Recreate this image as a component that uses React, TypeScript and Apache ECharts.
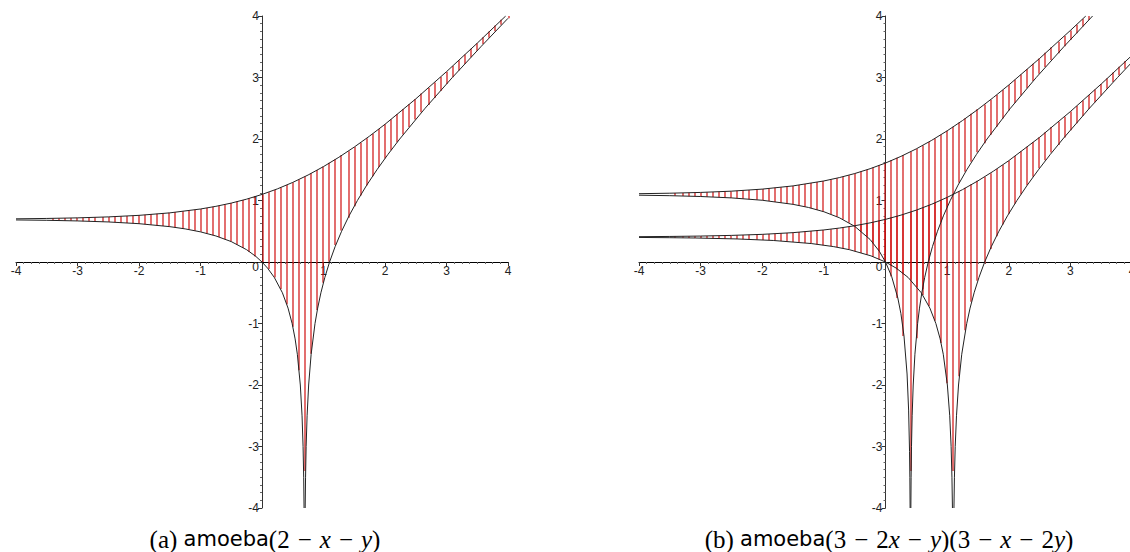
import React, { useEffect, useRef } from "react";
import * as echarts from "echarts";

// ---- Data: boundary curves of the amoebas, [log|x|, log|y|] ----
// Panel (a): amoeba(2 - x - y)
const A_UPPER = [[-4,0.7022],[-3.5,0.7081],[-3,0.7177],[-2.5,0.7334],[-2,0.7586],[-1.5,0.7989],[-1,0.862],[-0.75,0.9051],[-0.5,0.958],[-0.25,1.022],[0,1.0986],[0.25,1.189],[0.5,1.2944],[0.75,1.4151],[1,1.5514],[1.25,1.703],[1.5,1.869],[1.75,2.0482],[2,2.2395],[2.5,2.652],[3,3.0949],[3.5,3.5586],[3.9626,4]];
const A_LOWER_RIGHT = [[0.7022,-4],[0.7081,-3.5],[0.7177,-3],[0.7334,-2.5],[0.7586,-2],[0.7989,-1.5],[0.862,-1],[0.9051,-0.75],[0.958,-0.5],[1.022,-0.25],[1.0986,0],[1.189,0.25],[1.2944,0.5],[1.4151,0.75],[1.5514,1],[1.703,1.25],[1.869,1.5],[2.0482,1.75],[2.2395,2],[2.652,2.5],[3.0949,3],[3.5586,3.5],[4,3.9626]];
const A_LOWER_LEFT = [[-4,0.6839],[-3.5,0.6779],[-3,0.6679],[-2.5,0.6512],[-2,0.6231],[-1.5,0.5749],[-1.25,0.5385],[-1,0.4899],[-0.75,0.4237],[-0.5,0.3318],[-0.25,0.1998],[-0.1,0.0909],[0,0],[0.0909,-0.1],[0.1998,-0.25],[0.3318,-0.5],[0.4237,-0.75],[0.4899,-1],[0.5385,-1.25],[0.5749,-1.5],[0.6231,-2],[0.6512,-2.5],[0.6679,-3],[0.6779,-3.5],[0.6839,-4]];

// Panel (b): amoeba(3 - 2x - y)(3 - x - 2y)
const B1_UPPER = [[-4,1.1107],[-3.5,1.1185],[-3,1.1313],[-2.5,1.1519],[-2,1.185],[-1.5,1.2373],[-1,1.318],[-0.75,1.3724],[-0.5,1.4382],[-0.25,1.5168],[0,1.6094],[0.25,1.717],[0.5,1.8401],[0.75,1.9788],[1,2.1326],[1.25,2.3006],[1.5,2.4819],[1.75,2.6748],[2,2.878],[2.5,3.3093],[3,3.7652],[3.2503,4]];
const B1_LOWER_RIGHT = [[0.4116,-4],[0.4155,-3.5],[0.4219,-3],[0.4325,-2.5],[0.4496,-2],[0.4772,-1.5],[0.5212,-1],[0.5517,-0.75],[0.5896,-0.5],[0.6363,-0.25],[0.6931,0],[0.7617,0.25],[0.8434,0.5],[0.9394,0.75],[1.0505,1],[1.1772,1.25],[1.3193,1.5],[1.4764,1.75],[1.6476,2],[2.027,2.5],[2.4461,3],[2.8936,3.5],[3.3603,4]];
const B1_LOWER_LEFT = [[-4,1.0863],[-3.5,1.0783],[-3,1.0648],[-2.5,1.0423],[-2,1.004],[-1.5,0.9375],[-1.25,0.8867],[-1,0.8172],[-0.75,0.7204],[-0.5,0.5805],[-0.25,0.3663],[-0.1,0.1743],[0,0],[0.1,-0.2362],[0.2,-0.5849],[0.25,-0.8396],[0.3,-1.203],[0.35,-1.821],[0.375,-2.4077],[0.39,-3.0782],[0.3953,-3.5],[0.3993,-4]];
const B2_UPPER = [[-4,0.4116],[-3.5,0.4155],[-3,0.4219],[-2.5,0.4325],[-2,0.4496],[-1.5,0.4772],[-1,0.5212],[-0.75,0.5517],[-0.5,0.5896],[-0.25,0.6363],[0,0.6931],[0.25,0.7617],[0.5,0.8434],[0.75,0.9394],[1,1.0505],[1.25,1.1772],[1.5,1.3193],[1.75,1.4764],[2,1.6476],[2.5,2.027],[3,2.4461],[3.5,2.8936],[4,3.3603]];
const B2_LOWER_RIGHT = [[1.1107,-4],[1.1185,-3.5],[1.1313,-3],[1.1519,-2.5],[1.185,-2],[1.2373,-1.5],[1.318,-1],[1.3724,-0.75],[1.4382,-0.5],[1.5168,-0.25],[1.6094,0],[1.717,0.25],[1.8401,0.5],[1.9788,0.75],[2.1326,1],[2.3006,1.25],[2.4819,1.5],[2.6748,1.75],[2.878,2],[3.3093,2.5],[3.7652,3],[4,3.2503]];
const B2_LOWER_LEFT = [[-4,0.3993],[-3.5,0.3953],[-3.0782,0.39],[-2.4077,0.375],[-1.821,0.35],[-1.203,0.3],[-0.8396,0.25],[-0.5849,0.2],[-0.2362,0.1],[0,0],[0.1743,-0.1],[0.3663,-0.25],[0.5805,-0.5],[0.7204,-0.75],[0.8172,-1],[0.8867,-1.25],[0.9375,-1.5],[1.004,-2],[1.0423,-2.5],[1.0648,-3],[1.0783,-3.5],[1.0863,-4]];

const AXIS_MIN = -4;
const AXIS_MAX = 4;

// hatching (fill style): vertical strokes every 0.1 unit
const HATCH_FROM = -3.4;
const HATCH_STEP = 0.1;
const HATCH_COLOR = "#d01010";
const CURVE_COLOR = "#222222";

type Pts = number[][];

function interp(arr: Pts, u: number): number {
  if (u <= arr[0][0]) return arr[0][1];
  for (let i = 1; i < arr.length; i++) {
    if (u <= arr[i][0]) {
      const t = (u - arr[i - 1][0]) / (arr[i][0] - arr[i - 1][0]);
      return arr[i - 1][1] + t * (arr[i][1] - arr[i - 1][1]);
    }
  }
  return arr[arr.length - 1][1];
}

function hatchSeries(idx: number, up: Pts, ll: Pts, lr: Pts) {
  const us: number[] = [];
  for (let k = 0; HATCH_FROM + k * HATCH_STEP <= AXIS_MAX + 1e-9; k++) {
    us.push(+(HATCH_FROM + k * HATCH_STEP).toFixed(2));
  }
  const llEnd = ll[ll.length - 1][0];
  const lrStart = lr[0][0];
  const upEnd = up[up.length - 1][0];
  return {
    type: "custom",
    xAxisIndex: idx,
    yAxisIndex: idx,
    data: [[0, 0]],
    z: 1,
    silent: true,
    renderItem: (_params: any, api: any) => {
      let d = "";
      us.forEach((u) => {
        let lo = u <= llEnd ? interp(ll, u) : u >= lrStart ? interp(lr, u) : -Infinity;
        let hi = u >= upEnd ? AXIS_MAX : interp(up, u);
        lo = Math.max(lo, HATCH_FROM);
        hi = Math.min(hi, AXIS_MAX);
        if (hi - lo <= 0.001) return;
        const a = api.coord([u, lo]);
        const b = api.coord([u, hi]);
        // centre each stroke on a pixel-pair boundary so it stays visibly red
        const x = 2 * Math.round((a[0] - 1) / 2) + 1;
        d += `M${x} ${a[1].toFixed(2)}L${x} ${b[1].toFixed(2)}`;
      });
      return {
        type: "path",
        shape: { pathData: d },
        style: { fill: "none", stroke: HATCH_COLOR, lineWidth: 1.2 },
      };
    },
  };
}

function curve(idx: number, data: Pts) {
  return {
    type: "line",
    xAxisIndex: idx,
    yAxisIndex: idx,
    data,
    showSymbol: false,
    symbol: "none",
    z: 3,
    silent: true,
    lineStyle: { color: CURVE_COLOR, width: 1 },
  };
}

const labelBase = {
  color: "#222",
  fontSize: 12,
  fontFamily: "Liberation Sans, Arial, sans-serif",
};

function xAxis(idx: number, off: number) {
  return {
    gridIndex: idx,
    type: "value",
    position: "bottom",
    offset: off,
    min: AXIS_MIN,
    max: AXIS_MAX,
    interval: 1,
    axisLine: { onZero: false, lineStyle: { color: "#000", width: 1 } },
    axisTick: { show: true, length: 4, lineStyle: { color: "#333" } },
    minorTick: { show: true, splitNumber: 8, length: 2, lineStyle: { color: "#666" } },
    splitLine: { show: false },
    minorSplitLine: { show: false },
    axisLabel: {
      ...labelBase,
      margin: 3,
      formatter: (v: number) => (v === 0 ? "" : String(v)),
    },
  };
}

function yAxis(idx: number, off: number) {
  return {
    gridIndex: idx,
    type: "value",
    position: "left",
    offset: off,
    min: AXIS_MIN,
    max: AXIS_MAX,
    interval: 1,
    axisLine: { onZero: false, lineStyle: { color: "#333", width: 1 } },
    axisTick: { show: true, length: 4, lineStyle: { color: "#333" } },
    minorTick: { show: true, splitNumber: 8, length: 2, lineStyle: { color: "#666" } },
    splitLine: { show: false },
    minorSplitLine: { show: false },
    axisLabel: {
      ...labelBase,
      margin: 3,
      formatter: (v: number) => (v === 0 ? "{z|0}" : String(v)),
      rich: { z: { ...labelBase, padding: [10, 0, 0, 0] } },
    },
  };
}

const SERIF = "Liberation Serif, serif";
const captionRich = {
  r: { fontFamily: SERIF, fontSize: 25, color: "#000" },
  m: { fontFamily: SERIF, fontSize: 25, color: "#000", padding: [0, 8, 0, 8] },
  i: { fontFamily: SERIF, fontSize: 25, fontStyle: "italic", color: "#000" },
  s: { fontFamily: "DejaVu Sans, sans-serif", fontSize: 21, color: "#000" },
};
const CAPTION_A = "{r|(a) }{s|amoeba}{r|(2}{m|−}{i|x}{m|−}{i|y}{r|)}";
const CAPTION_B = "{r|(b) }{s|amoeba}{r|(3}{m|−}{r|2}{i|x}{m|−}{i|y}{r|)(3}{m|−}{i|x}{m|−}{r|2}{i|y}{r|)}";

export default function App() {
  const ref = useRef<HTMLDivElement>(null);
  useEffect(() => {
    document.body.style.margin = "0";
    if (!ref.current) return;
    const chart = echarts.init(ref.current, null, { renderer: "svg" });
    chart.setOption({
      animation: false,
      backgroundColor: "#fff",
      grid: [
        { left: 16, top: 16, width: 492, height: 492, outerBoundsMode: "none", containLabel: false },
        { left: 639, top: 16, width: 493, height: 492, outerBoundsMode: "none", containLabel: false },
      ],
      xAxis: [xAxis(0, -246), xAxis(1, -246)],
      yAxis: [yAxis(0, -246), yAxis(1, -246.5)],
      series: [
        hatchSeries(0, A_UPPER, A_LOWER_LEFT, A_LOWER_RIGHT),
        curve(0, A_UPPER),
        curve(0, A_LOWER_RIGHT),
        curve(0, A_LOWER_LEFT),
        hatchSeries(1, B1_UPPER, B1_LOWER_LEFT, B1_LOWER_RIGHT),
        hatchSeries(1, B2_UPPER, B2_LOWER_LEFT, B2_LOWER_RIGHT),
        curve(1, B1_UPPER),
        curve(1, B1_LOWER_RIGHT),
        curve(1, B1_LOWER_LEFT),
        curve(1, B2_UPPER),
        curve(1, B2_LOWER_RIGHT),
        curve(1, B2_LOWER_LEFT),
      ],
      graphic: [
        {
          type: "text",
          x: 265,
          y: 539,
          style: {
            text: CAPTION_A,
            rich: captionRich,
            textAlign: "center",
            textVerticalAlign: "middle",
            align: "center",
            verticalAlign: "middle",
          },
        },
        {
          type: "text",
          x: 889,
          y: 539,
          style: {
            text: CAPTION_B,
            rich: captionRich,
            textAlign: "center",
            textVerticalAlign: "middle",
            align: "center",
            verticalAlign: "middle",
          },
        },
      ],
    });
    return () => chart.dispose();
  }, []);
  return <div ref={ref} style={{ width: 1130, height: 552 }} />;
}
